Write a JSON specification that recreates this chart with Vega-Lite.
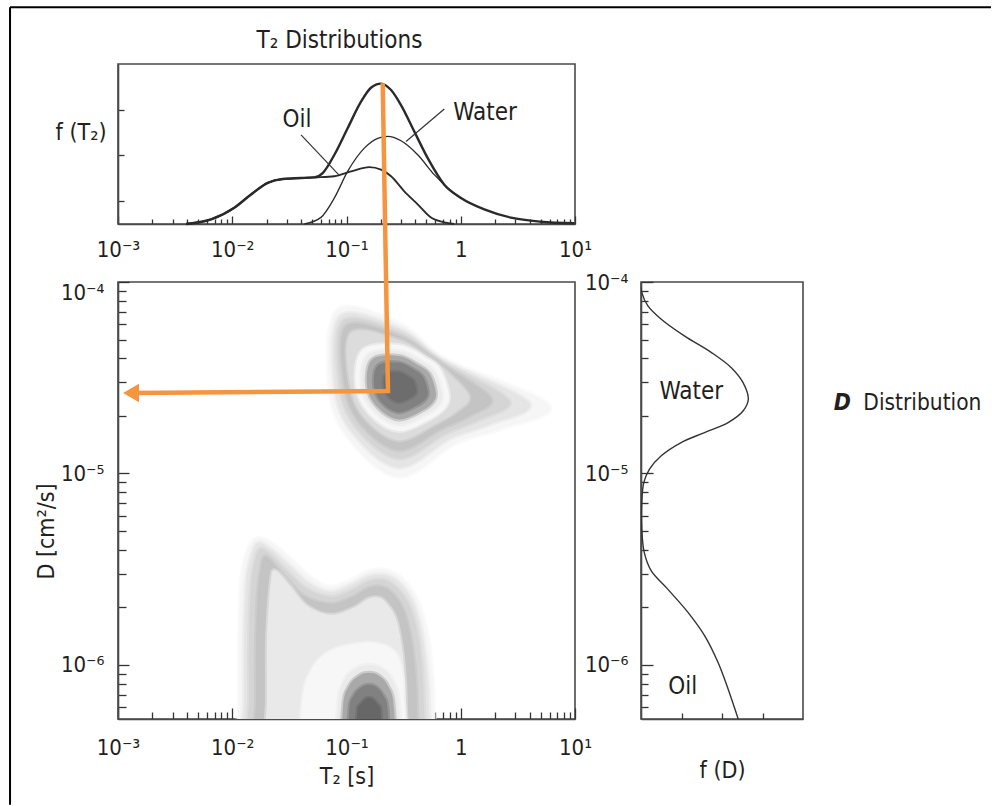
{
  "$schema": "https://vega.github.io/schema/vega-lite/v6.json",
  "padding": {"left": 8, "top": 5, "right": 0, "bottom": 0},
  "background": "white",
  "config": {
    "font": "Liberation Sans Narrow, DejaVu Sans Condensed, sans-serif",
    "view": {"stroke": "#4a4a4a", "strokeWidth": 1.6},
    "axis": {"domainColor": "#4a4a4a", "domainWidth": 1.6, "tickColor": "#333333", "tickWidth": 1.3, "labelFontSize": 22, "labelColor": "#231f20", "titleFontSize": 23, "titleFontWeight": "normal", "titleColor": "#231f20", "grid": false, "zindex": 1, "labelFlush": false, "labelOverlap": false},
    "title": {"fontSize": 24, "fontWeight": "normal", "color": "#231f20"},
    "text": {"color": "#231f20"}
  },
  "datasets": {
    "t2": [
      {"series":"Total","T2":0.00394,"f":0},{"series":"Total","T2":0.00652,"f":0.2},{"series":"Total","T2":0.01042,"f":0.71},{"series":"Total","T2":0.01459,"f":1.29},{"series":"Total","T2":0.02042,"f":1.8},{"series":"Total","T2":0.02767,"f":1.97},{"series":"Total","T2":0.04,"f":2.01},{"series":"Total","T2":0.05224,"f":2.04},{"series":"Total","T2":0.06194,"f":2.23},{"series":"Total","T2":0.07834,"f":3.03},{"series":"Total","T2":0.1023,"f":4.19},{"series":"Total","T2":0.134,"f":5.35},{"series":"Total","T2":0.1637,"f":5.96},{"series":"Total","T2":0.2004,"f":6.14},{"series":"Total","T2":0.2455,"f":5.86},{"series":"Total","T2":0.2999,"f":5.2},{"series":"Total","T2":0.3926,"f":4.04},{"series":"Total","T2":0.514,"f":2.88},{"series":"Total","T2":0.7178,"f":1.72},{"series":"Total","T2":1.005,"f":1.14},{"series":"Total","T2":1.607,"f":0.64},{"series":"Total","T2":2.754,"f":0.28},{"series":"Total","T2":5.035,"f":0.1},{"series":"Total","T2":9.863,"f":0.03},
      {"series":"Oil","T2":0.00394,"f":0},{"series":"Oil","T2":0.00652,"f":0.2},{"series":"Oil","T2":0.01042,"f":0.71},{"series":"Oil","T2":0.01459,"f":1.29},{"series":"Oil","T2":0.02042,"f":1.8},{"series":"Oil","T2":0.02767,"f":1.97},{"series":"Oil","T2":0.04,"f":2.01},{"series":"Oil","T2":0.05224,"f":2.04},{"series":"Oil","T2":0.07834,"f":2.09},{"series":"Oil","T2":0.1096,"f":2.3},{"series":"Oil","T2":0.1585,"f":2.49},{"series":"Oil","T2":0.2004,"f":2.38},{"series":"Oil","T2":0.2455,"f":2.09},{"series":"Oil","T2":0.3206,"f":1.43},{"series":"Oil","T2":0.4198,"f":0.86},{"series":"Oil","T2":0.5495,"f":0.28},{"series":"Oil","T2":0.7178,"f":0.07},{"series":"Oil","T2":0.877,"f":0},
      {"series":"Water","T2":0.04276,"f":0},{"series":"Water","T2":0.05984,"f":0.29},{"series":"Water","T2":0.07834,"f":1.14},{"series":"Water","T2":0.1023,"f":2.3},{"series":"Water","T2":0.1432,"f":3.32},{"series":"Water","T2":0.1875,"f":3.75},{"series":"Water","T2":0.2291,"f":3.83},{"series":"Water","T2":0.2999,"f":3.64},{"series":"Water","T2":0.4198,"f":3.03},{"series":"Water","T2":0.5861,"f":2.16},{"series":"Water","T2":0.7691,"f":1.58},{"series":"Water","T2":1.005,"f":1.14}
    ],
    "fd": [
      {"f":0,"D":0.000094},{"f":0.02,"D":0.000088},{"f":0.17,"D":0.000075},{"f":0.5,"D":0.0000639},{"f":1.07,"D":0.0000523},{"f":1.74,"D":0.0000428},{"f":2.23,"D":0.0000357},{"f":2.52,"D":0.0000298},{"f":2.65,"D":0.0000244},{"f":2.52,"D":0.0000212},{"f":2.15,"D":0.00001845},{"f":1.57,"D":0.00001636},{"f":0.99,"D":0.00001451},{"f":0.5,"D":0.00001237},{"f":0.21,"D":0.00001054},{"f":0.07,"D":0.00000898},{"f":0.02,"D":0.00000706},{"f":0.02,"D":0.00000513},{"f":0.08,"D":0.00000387},{"f":0.25,"D":0.00000311},{"f":0.66,"D":0.00000249},{"f":1.16,"D":0.000001883},{"f":1.57,"D":0.000001423},{"f":1.9,"D":0.000001033},{"f":2.15,"D":0.00000075},{"f":2.4,"D":0.000000523}
    ],
    "arrow": [
      {"step":1,"T2":0.2074,"D":0.001093},{"step":2,"T2":0.2307,"D":0.00002698},{"step":3,"T2":0.0013,"D":0.00002634}
    ],
    "blobs": [
      {"poly":"o01","level":0.03,"i":1,"log10_T2":-1.941,"log10_D":-6.657},{"poly":"o01","level":0.03,"i":2,"log10_T2":-1.941,"log10_D":-6.187},{"poly":"o01","level":0.03,"i":3,"log10_T2":-1.941,"log10_D":-5.874},{"poly":"o01","level":0.03,"i":4,"log10_T2":-1.923,"log10_D":-5.561},{"poly":"o01","level":0.03,"i":5,"log10_T2":-1.871,"log10_D":-5.404},{"poly":"o01","level":0.03,"i":6,"log10_T2":-1.783,"log10_D":-5.336},{"poly":"o01","level":0.03,"i":7,"log10_T2":-1.643,"log10_D":-5.367},{"poly":"o01","level":0.03,"i":8,"log10_T2":-1.468,"log10_D":-5.456},{"poly":"o01","level":0.03,"i":9,"log10_T2":-1.293,"log10_D":-5.55},{"poly":"o01","level":0.03,"i":10,"log10_T2":-1.136,"log10_D":-5.592},{"poly":"o01","level":0.03,"i":11,"log10_T2":-0.961,"log10_D":-5.555},{"poly":"o01","level":0.03,"i":12,"log10_T2":-0.803,"log10_D":-5.508},{"poly":"o01","level":0.03,"i":13,"log10_T2":-0.654,"log10_D":-5.503},{"poly":"o01","level":0.03,"i":14,"log10_T2":-0.506,"log10_D":-5.55},{"poly":"o01","level":0.03,"i":15,"log10_T2":-0.374,"log10_D":-5.665},{"poly":"o01","level":0.03,"i":16,"log10_T2":-0.287,"log10_D":-5.848},{"poly":"o01","level":0.03,"i":17,"log10_T2":-0.243,"log10_D":-6.082},{"poly":"o01","level":0.03,"i":18,"log10_T2":-0.234,"log10_D":-6.239},{"poly":"o01","level":0.03,"i":19,"log10_T2":-0.225,"log10_D":-6.657},{"poly":"o01","level":0.03,"i":20,"log10_T2":-1.083,"log10_D":-6.709},
      {"poly":"o02","level":0.09,"i":1,"log10_T2":-1.897,"log10_D":-6.657},{"poly":"o02","level":0.09,"i":2,"log10_T2":-1.897,"log10_D":-6.187},{"poly":"o02","level":0.09,"i":3,"log10_T2":-1.897,"log10_D":-5.874},{"poly":"o02","level":0.09,"i":4,"log10_T2":-1.88,"log10_D":-5.571},{"poly":"o02","level":0.09,"i":5,"log10_T2":-1.836,"log10_D":-5.43},{"poly":"o02","level":0.09,"i":6,"log10_T2":-1.775,"log10_D":-5.362},{"poly":"o02","level":0.09,"i":7,"log10_T2":-1.661,"log10_D":-5.394},{"poly":"o02","level":0.09,"i":8,"log10_T2":-1.495,"log10_D":-5.482},{"poly":"o02","level":0.09,"i":9,"log10_T2":-1.319,"log10_D":-5.576},{"poly":"o02","level":0.09,"i":10,"log10_T2":-1.136,"log10_D":-5.618},{"poly":"o02","level":0.09,"i":11,"log10_T2":-0.961,"log10_D":-5.581},{"poly":"o02","level":0.09,"i":12,"log10_T2":-0.803,"log10_D":-5.534},{"poly":"o02","level":0.09,"i":13,"log10_T2":-0.663,"log10_D":-5.529},{"poly":"o02","level":0.09,"i":14,"log10_T2":-0.532,"log10_D":-5.571},{"poly":"o02","level":0.09,"i":15,"log10_T2":-0.409,"log10_D":-5.681},{"poly":"o02","level":0.09,"i":16,"log10_T2":-0.33,"log10_D":-5.858},{"poly":"o02","level":0.09,"i":17,"log10_T2":-0.287,"log10_D":-6.082},{"poly":"o02","level":0.09,"i":18,"log10_T2":-0.278,"log10_D":-6.239},{"poly":"o02","level":0.09,"i":19,"log10_T2":-0.269,"log10_D":-6.657},{"poly":"o02","level":0.09,"i":20,"log10_T2":-1.083,"log10_D":-6.709},
      {"poly":"o03","level":0.15,"i":1,"log10_T2":-1.853,"log10_D":-6.657},{"poly":"o03","level":0.15,"i":2,"log10_T2":-1.853,"log10_D":-6.187},{"poly":"o03","level":0.15,"i":3,"log10_T2":-1.853,"log10_D":-5.874},{"poly":"o03","level":0.15,"i":4,"log10_T2":-1.836,"log10_D":-5.587},{"poly":"o03","level":0.15,"i":5,"log10_T2":-1.801,"log10_D":-5.456},{"poly":"o03","level":0.15,"i":6,"log10_T2":-1.757,"log10_D":-5.394},{"poly":"o03","level":0.15,"i":7,"log10_T2":-1.67,"log10_D":-5.42},{"poly":"o03","level":0.15,"i":8,"log10_T2":-1.521,"log10_D":-5.508},{"poly":"o03","level":0.15,"i":9,"log10_T2":-1.346,"log10_D":-5.602},{"poly":"o03","level":0.15,"i":10,"log10_T2":-1.136,"log10_D":-5.644},{"poly":"o03","level":0.15,"i":11,"log10_T2":-0.952,"log10_D":-5.608},{"poly":"o03","level":0.15,"i":12,"log10_T2":-0.803,"log10_D":-5.561},{"poly":"o03","level":0.15,"i":13,"log10_T2":-0.672,"log10_D":-5.555},{"poly":"o03","level":0.15,"i":14,"log10_T2":-0.558,"log10_D":-5.597},{"poly":"o03","level":0.15,"i":15,"log10_T2":-0.444,"log10_D":-5.696},{"poly":"o03","level":0.15,"i":16,"log10_T2":-0.365,"log10_D":-5.874},{"poly":"o03","level":0.15,"i":17,"log10_T2":-0.33,"log10_D":-6.082},{"poly":"o03","level":0.15,"i":18,"log10_T2":-0.322,"log10_D":-6.239},{"poly":"o03","level":0.15,"i":19,"log10_T2":-0.313,"log10_D":-6.657},{"poly":"o03","level":0.15,"i":20,"log10_T2":-1.083,"log10_D":-6.709},
      {"poly":"o04","level":0.21,"i":1,"log10_T2":-1.792,"log10_D":-6.657},{"poly":"o04","level":0.21,"i":2,"log10_T2":-1.792,"log10_D":-6.187},{"poly":"o04","level":0.21,"i":3,"log10_T2":-1.792,"log10_D":-5.874},{"poly":"o04","level":0.21,"i":4,"log10_T2":-1.775,"log10_D":-5.613},{"poly":"o04","level":0.21,"i":5,"log10_T2":-1.748,"log10_D":-5.493},{"poly":"o04","level":0.21,"i":6,"log10_T2":-1.722,"log10_D":-5.435},{"poly":"o04","level":0.21,"i":7,"log10_T2":-1.661,"log10_D":-5.456},{"poly":"o04","level":0.21,"i":8,"log10_T2":-1.538,"log10_D":-5.54},{"poly":"o04","level":0.21,"i":9,"log10_T2":-1.372,"log10_D":-5.639},{"poly":"o04","level":0.21,"i":10,"log10_T2":-1.136,"log10_D":-5.681},{"poly":"o04","level":0.21,"i":11,"log10_T2":-0.943,"log10_D":-5.644},{"poly":"o04","level":0.21,"i":12,"log10_T2":-0.803,"log10_D":-5.597},{"poly":"o04","level":0.21,"i":13,"log10_T2":-0.689,"log10_D":-5.592},{"poly":"o04","level":0.21,"i":14,"log10_T2":-0.593,"log10_D":-5.628},{"poly":"o04","level":0.21,"i":15,"log10_T2":-0.497,"log10_D":-5.717},{"poly":"o04","level":0.21,"i":16,"log10_T2":-0.427,"log10_D":-5.889},{"poly":"o04","level":0.21,"i":17,"log10_T2":-0.392,"log10_D":-6.082},{"poly":"o04","level":0.21,"i":18,"log10_T2":-0.383,"log10_D":-6.239},{"poly":"o04","level":0.21,"i":19,"log10_T2":-0.374,"log10_D":-6.657},{"poly":"o04","level":0.21,"i":20,"log10_T2":-1.083,"log10_D":-6.709},
      {"poly":"o05","level":0.32,"i":1,"log10_T2":-1.696,"log10_D":-6.657},{"poly":"o05","level":0.32,"i":2,"log10_T2":-1.696,"log10_D":-6.187},{"poly":"o05","level":0.32,"i":3,"log10_T2":-1.696,"log10_D":-5.874},{"poly":"o05","level":0.32,"i":4,"log10_T2":-1.678,"log10_D":-5.665},{"poly":"o05","level":0.32,"i":5,"log10_T2":-1.661,"log10_D":-5.561},{"poly":"o05","level":0.32,"i":6,"log10_T2":-1.643,"log10_D":-5.508},{"poly":"o05","level":0.32,"i":7,"log10_T2":-1.591,"log10_D":-5.519},{"poly":"o05","level":0.32,"i":8,"log10_T2":-1.486,"log10_D":-5.592},{"poly":"o05","level":0.32,"i":9,"log10_T2":-1.346,"log10_D":-5.691},{"poly":"o05","level":0.32,"i":10,"log10_T2":-1.136,"log10_D":-5.738},{"poly":"o05","level":0.32,"i":11,"log10_T2":-0.934,"log10_D":-5.701},{"poly":"o05","level":0.32,"i":12,"log10_T2":-0.812,"log10_D":-5.655},{"poly":"o05","level":0.32,"i":13,"log10_T2":-0.716,"log10_D":-5.649},{"poly":"o05","level":0.32,"i":14,"log10_T2":-0.646,"log10_D":-5.681},{"poly":"o05","level":0.32,"i":15,"log10_T2":-0.567,"log10_D":-5.759},{"poly":"o05","level":0.32,"i":16,"log10_T2":-0.514,"log10_D":-5.915},{"poly":"o05","level":0.32,"i":17,"log10_T2":-0.488,"log10_D":-6.082},{"poly":"o05","level":0.32,"i":18,"log10_T2":-0.479,"log10_D":-6.239},{"poly":"o05","level":0.32,"i":19,"log10_T2":-0.471,"log10_D":-6.657},{"poly":"o05","level":0.32,"i":20,"log10_T2":-1.083,"log10_D":-6.709},
      {"poly":"o06","level":0.36,"i":1,"log10_T2":-1.398,"log10_D":-6.657},{"poly":"o06","level":0.36,"i":2,"log10_T2":-1.39,"log10_D":-6.213},{"poly":"o06","level":0.36,"i":3,"log10_T2":-1.311,"log10_D":-6.03},{"poly":"o06","level":0.36,"i":4,"log10_T2":-1.136,"log10_D":-5.926},{"poly":"o06","level":0.36,"i":5,"log10_T2":-0.829,"log10_D":-5.884},{"poly":"o06","level":0.36,"i":6,"log10_T2":-0.611,"log10_D":-5.915},{"poly":"o06","level":0.36,"i":7,"log10_T2":-0.523,"log10_D":-6.004},{"poly":"o06","level":0.36,"i":8,"log10_T2":-0.497,"log10_D":-6.187},{"poly":"o06","level":0.36,"i":9,"log10_T2":-0.488,"log10_D":-6.657},{"poly":"o06","level":0.36,"i":10,"log10_T2":-0.943,"log10_D":-6.709},
      {"poly":"o07","level":0.45,"i":1,"log10_T2":-1.083,"log10_D":-6.657},{"poly":"o07","level":0.45,"i":2,"log10_T2":-1.074,"log10_D":-6.213},{"poly":"o07","level":0.45,"i":3,"log10_T2":-1.013,"log10_D":-6.072},{"poly":"o07","level":0.45,"i":4,"log10_T2":-0.908,"log10_D":-6.015},{"poly":"o07","level":0.45,"i":5,"log10_T2":-0.803,"log10_D":-5.999},{"poly":"o07","level":0.45,"i":6,"log10_T2":-0.698,"log10_D":-6.015},{"poly":"o07","level":0.45,"i":7,"log10_T2":-0.602,"log10_D":-6.072},{"poly":"o07","level":0.45,"i":8,"log10_T2":-0.541,"log10_D":-6.213},{"poly":"o07","level":0.45,"i":9,"log10_T2":-0.532,"log10_D":-6.657},{"poly":"o07","level":0.45,"i":10,"log10_T2":-0.803,"log10_D":-6.709},
      {"poly":"o08","level":0.55,"i":1,"log10_T2":-1.039,"log10_D":-6.657},{"poly":"o08","level":0.55,"i":2,"log10_T2":-1.031,"log10_D":-6.229},{"poly":"o08","level":0.55,"i":3,"log10_T2":-0.978,"log10_D":-6.109},{"poly":"o08","level":0.55,"i":4,"log10_T2":-0.891,"log10_D":-6.056},{"poly":"o08","level":0.55,"i":5,"log10_T2":-0.803,"log10_D":-6.041},{"poly":"o08","level":0.55,"i":6,"log10_T2":-0.716,"log10_D":-6.056},{"poly":"o08","level":0.55,"i":7,"log10_T2":-0.637,"log10_D":-6.109},{"poly":"o08","level":0.55,"i":8,"log10_T2":-0.584,"log10_D":-6.229},{"poly":"o08","level":0.55,"i":9,"log10_T2":-0.576,"log10_D":-6.657},{"poly":"o08","level":0.55,"i":10,"log10_T2":-0.803,"log10_D":-6.709},
      {"poly":"o09","level":0.68,"i":1,"log10_T2":-0.987,"log10_D":-6.657},{"poly":"o09","level":0.68,"i":2,"log10_T2":-0.978,"log10_D":-6.25},{"poly":"o09","level":0.68,"i":3,"log10_T2":-0.934,"log10_D":-6.156},{"poly":"o09","level":0.68,"i":4,"log10_T2":-0.864,"log10_D":-6.114},{"poly":"o09","level":0.68,"i":5,"log10_T2":-0.803,"log10_D":-6.103},{"poly":"o09","level":0.68,"i":6,"log10_T2":-0.742,"log10_D":-6.114},{"poly":"o09","level":0.68,"i":7,"log10_T2":-0.681,"log10_D":-6.156},{"poly":"o09","level":0.68,"i":8,"log10_T2":-0.637,"log10_D":-6.25},{"poly":"o09","level":0.68,"i":9,"log10_T2":-0.628,"log10_D":-6.657},{"poly":"o09","level":0.68,"i":10,"log10_T2":-0.803,"log10_D":-6.709},
      {"poly":"o10","level":0.9,"i":1,"log10_T2":-0.917,"log10_D":-6.657},{"poly":"o10","level":0.9,"i":2,"log10_T2":-0.908,"log10_D":-6.27},{"poly":"o10","level":0.9,"i":3,"log10_T2":-0.873,"log10_D":-6.203},{"poly":"o10","level":0.9,"i":4,"log10_T2":-0.803,"log10_D":-6.171},{"poly":"o10","level":0.9,"i":5,"log10_T2":-0.733,"log10_D":-6.203},{"poly":"o10","level":0.9,"i":6,"log10_T2":-0.698,"log10_D":-6.27},{"poly":"o10","level":0.9,"i":7,"log10_T2":-0.689,"log10_D":-6.657},{"poly":"o10","level":0.9,"i":8,"log10_T2":-0.803,"log10_D":-6.709},
      {"poly":"w01","level":0.03,"i":1,"log10_T2":0.779,"log10_D":-4.646},{"poly":"w01","level":0.03,"i":2,"log10_T2":-0.047,"log10_D":-4.426},{"poly":"w01","level":0.03,"i":3,"log10_T2":-0.231,"log10_D":-4.364},{"poly":"w01","level":0.03,"i":4,"log10_T2":-0.541,"log10_D":-4.214},{"poly":"w01","level":0.03,"i":5,"log10_T2":-1.083,"log10_D":-4.146},{"poly":"w01","level":0.03,"i":6,"log10_T2":-1.153,"log10_D":-4.548},{"poly":"w01","level":0.03,"i":7,"log10_T2":-0.986,"log10_D":-4.814},{"poly":"w01","level":0.03,"i":8,"log10_T2":-0.541,"log10_D":-5.018},{"poly":"w01","level":0.03,"i":9,"log10_T2":-0.045,"log10_D":-4.843},{"poly":"w01","level":0.03,"i":10,"log10_T2":0.349,"log10_D":-4.768},
      {"poly":"w02","level":0.09,"i":1,"log10_T2":0.602,"log10_D":-4.633},{"poly":"w02","level":0.09,"i":2,"log10_T2":-0.073,"log10_D":-4.432},{"poly":"w02","level":0.09,"i":3,"log10_T2":-0.244,"log10_D":-4.371},{"poly":"w02","level":0.09,"i":4,"log10_T2":-0.541,"log10_D":-4.24},{"poly":"w02","level":0.09,"i":5,"log10_T2":-1.057,"log10_D":-4.177},{"poly":"w02","level":0.09,"i":6,"log10_T2":-1.106,"log10_D":-4.548},{"poly":"w02","level":0.09,"i":7,"log10_T2":-0.946,"log10_D":-4.79},{"poly":"w02","level":0.09,"i":8,"log10_T2":-0.541,"log10_D":-4.97},{"poly":"w02","level":0.09,"i":9,"log10_T2":-0.089,"log10_D":-4.817},{"poly":"w02","level":0.09,"i":10,"log10_T2":0.254,"log10_D":-4.744},
      {"poly":"w03","level":0.15,"i":1,"log10_T2":0.425,"log10_D":-4.62},{"poly":"w03","level":0.15,"i":2,"log10_T2":-0.099,"log10_D":-4.439},{"poly":"w03","level":0.15,"i":3,"log10_T2":-0.256,"log10_D":-4.378},{"poly":"w03","level":0.15,"i":4,"log10_T2":-0.541,"log10_D":-4.261},{"poly":"w03","level":0.15,"i":5,"log10_T2":-1.031,"log10_D":-4.204},{"poly":"w03","level":0.15,"i":6,"log10_T2":-1.059,"log10_D":-4.548},{"poly":"w03","level":0.15,"i":7,"log10_T2":-0.907,"log10_D":-4.766},{"poly":"w03","level":0.15,"i":8,"log10_T2":-0.541,"log10_D":-4.922},{"poly":"w03","level":0.15,"i":9,"log10_T2":-0.132,"log10_D":-4.792},{"poly":"w03","level":0.15,"i":10,"log10_T2":0.158,"log10_D":-4.721},
      {"poly":"w04","level":0.21,"i":1,"log10_T2":0.265,"log10_D":-4.608},{"poly":"w04","level":0.21,"i":2,"log10_T2":-0.122,"log10_D":-4.445},{"poly":"w04","level":0.21,"i":3,"log10_T2":-0.267,"log10_D":-4.385},{"poly":"w04","level":0.21,"i":4,"log10_T2":-0.541,"log10_D":-4.282},{"poly":"w04","level":0.21,"i":5,"log10_T2":-1.004,"log10_D":-4.23},{"poly":"w04","level":0.21,"i":6,"log10_T2":-1.016,"log10_D":-4.548},{"poly":"w04","level":0.21,"i":7,"log10_T2":-0.871,"log10_D":-4.745},{"poly":"w04","level":0.21,"i":8,"log10_T2":-0.541,"log10_D":-4.878},{"poly":"w04","level":0.21,"i":9,"log10_T2":-0.171,"log10_D":-4.768},{"poly":"w04","level":0.21,"i":10,"log10_T2":0.073,"log10_D":-4.7},
      {"poly":"w05","level":0.28,"i":1,"log10_T2":0.071,"log10_D":-4.594},{"poly":"w05","level":0.28,"i":2,"log10_T2":-0.151,"log10_D":-4.452},{"poly":"w05","level":0.28,"i":3,"log10_T2":-0.281,"log10_D":-4.393},{"poly":"w05","level":0.28,"i":4,"log10_T2":-0.541,"log10_D":-4.303},{"poly":"w05","level":0.28,"i":5,"log10_T2":-0.961,"log10_D":-4.266},{"poly":"w05","level":0.28,"i":6,"log10_T2":-0.964,"log10_D":-4.548},{"poly":"w05","level":0.28,"i":7,"log10_T2":-0.828,"log10_D":-4.719},{"poly":"w05","level":0.28,"i":8,"log10_T2":-0.541,"log10_D":-4.826},{"poly":"w05","level":0.28,"i":9,"log10_T2":-0.219,"log10_D":-4.74},{"poly":"w05","level":0.28,"i":10,"log10_T2":-0.033,"log10_D":-4.674},
      {"poly":"w06","level":0.36,"i":1,"log10_T2":-0.106,"log10_D":-4.58},{"poly":"w06","level":0.36,"i":2,"log10_T2":-0.177,"log10_D":-4.458},{"poly":"w06","level":0.36,"i":3,"log10_T2":-0.293,"log10_D":-4.4},{"poly":"w06","level":0.36,"i":4,"log10_T2":-0.541,"log10_D":-4.329},{"poly":"w06","level":0.36,"i":5,"log10_T2":-0.862,"log10_D":-4.356},{"poly":"w06","level":0.36,"i":6,"log10_T2":-0.917,"log10_D":-4.548},{"poly":"w06","level":0.36,"i":7,"log10_T2":-0.788,"log10_D":-4.696},{"poly":"w06","level":0.36,"i":8,"log10_T2":-0.541,"log10_D":-4.778},{"poly":"w06","level":0.36,"i":9,"log10_T2":-0.262,"log10_D":-4.714},{"poly":"w06","level":0.36,"i":10,"log10_T2":-0.128,"log10_D":-4.65},
      {"poly":"w07","level":0.45,"i":1,"log10_T2":-0.167,"log10_D":-4.576},{"poly":"w07","level":0.45,"i":2,"log10_T2":-0.228,"log10_D":-4.471},{"poly":"w07","level":0.45,"i":3,"log10_T2":-0.328,"log10_D":-4.421},{"poly":"w07","level":0.45,"i":4,"log10_T2":-0.541,"log10_D":-4.36},{"poly":"w07","level":0.45,"i":5,"log10_T2":-0.817,"log10_D":-4.383},{"poly":"w07","level":0.45,"i":6,"log10_T2":-0.864,"log10_D":-4.548},{"poly":"w07","level":0.45,"i":7,"log10_T2":-0.753,"log10_D":-4.675},{"poly":"w07","level":0.45,"i":8,"log10_T2":-0.541,"log10_D":-4.745},{"poly":"w07","level":0.45,"i":9,"log10_T2":-0.301,"log10_D":-4.691},{"poly":"w07","level":0.45,"i":10,"log10_T2":-0.185,"log10_D":-4.636},
      {"poly":"w08","level":0.55,"i":1,"log10_T2":-0.219,"log10_D":-4.572},{"poly":"w08","level":0.55,"i":2,"log10_T2":-0.271,"log10_D":-4.481},{"poly":"w08","level":0.55,"i":3,"log10_T2":-0.357,"log10_D":-4.439},{"poly":"w08","level":0.55,"i":4,"log10_T2":-0.541,"log10_D":-4.386},{"poly":"w08","level":0.55,"i":5,"log10_T2":-0.779,"log10_D":-4.406},{"poly":"w08","level":0.55,"i":6,"log10_T2":-0.819,"log10_D":-4.548},{"poly":"w08","level":0.55,"i":7,"log10_T2":-0.724,"log10_D":-4.657},{"poly":"w08","level":0.55,"i":8,"log10_T2":-0.541,"log10_D":-4.718},{"poly":"w08","level":0.55,"i":9,"log10_T2":-0.334,"log10_D":-4.671},{"poly":"w08","level":0.55,"i":10,"log10_T2":-0.236,"log10_D":-4.623},
      {"poly":"w09","level":0.68,"i":1,"log10_T2":-0.289,"log10_D":-4.567},{"poly":"w09","level":0.68,"i":2,"log10_T2":-0.329,"log10_D":-4.496},{"poly":"w09","level":0.68,"i":3,"log10_T2":-0.397,"log10_D":-4.462},{"poly":"w09","level":0.68,"i":4,"log10_T2":-0.541,"log10_D":-4.421},{"poly":"w09","level":0.68,"i":5,"log10_T2":-0.727,"log10_D":-4.437},{"poly":"w09","level":0.68,"i":6,"log10_T2":-0.758,"log10_D":-4.548},{"poly":"w09","level":0.68,"i":7,"log10_T2":-0.684,"log10_D":-4.634},{"poly":"w09","level":0.68,"i":8,"log10_T2":-0.541,"log10_D":-4.681},{"poly":"w09","level":0.68,"i":9,"log10_T2":-0.379,"log10_D":-4.644},{"poly":"w09","level":0.68,"i":10,"log10_T2":-0.301,"log10_D":-4.607},
      {"poly":"w10","level":0.85,"i":1,"log10_T2":-0.389,"log10_D":-4.559},{"poly":"w10","level":0.85,"i":2,"log10_T2":-0.413,"log10_D":-4.516},{"poly":"w10","level":0.85,"i":3,"log10_T2":-0.454,"log10_D":-4.496},{"poly":"w10","level":0.85,"i":4,"log10_T2":-0.541,"log10_D":-4.471},{"poly":"w10","level":0.85,"i":5,"log10_T2":-0.653,"log10_D":-4.481},{"poly":"w10","level":0.85,"i":6,"log10_T2":-0.672,"log10_D":-4.548},{"poly":"w10","level":0.85,"i":7,"log10_T2":-0.627,"log10_D":-4.6},{"poly":"w10","level":0.85,"i":8,"log10_T2":-0.541,"log10_D":-4.628},{"poly":"w10","level":0.85,"i":9,"log10_T2":-0.443,"log10_D":-4.606},{"poly":"w10","level":0.85,"i":10,"log10_T2":-0.396,"log10_D":-4.584}
    ]
  },
  "spacing": 58,
  "bounds": "flush",
  "vconcat": [
    {
      "width": 457,
      "height": 160,
      "title": {"text": "T₂ Distributions", "offset": 11, "dx": -7},
      "layer": [
        {
          "data": {"name": "t2"},
          "mark": {"type": "line", "color": "#2a2a2a", "interpolate": "monotone"},
          "encoding": {
            "x": {"field": "T2", "type": "quantitative", "scale": {"type": "log", "domain": [0.001, 10], "nice": false},
              "axis": {"orient": "bottom", "values": [0.001,0.002,0.003,0.004,0.005,0.006,0.007,0.008,0.009,0.01,0.02,0.03,0.04,0.05,0.06,0.07,0.08,0.09,0.1,0.2,0.3,0.4,0.5,0.6,0.7,0.8,0.9,1,2,3,4,5,6,7,8,9,10],
                "labelExpr": "datum.value == 0.001 ? '10⁻³' : datum.value == 0.01 ? '10⁻²' : datum.value == 0.1 ? '10⁻¹' : datum.value == 1 ? '1' : datum.value == 10 ? '10¹' : ''",
                "tickSize": {"condition": {"test": "indexof([0.001,0.01,0.1,1,10], datum.value) >= 0", "value": -8}, "value": -5},
                "labelPadding": 23, "title": null}},
            "y": {"field": "f", "type": "quantitative", "scale": {"domain": [0, 7], "nice": false},
              "axis": {"orient": "left", "values": [1,2,3,4,5,6], "labels": false, "tickSize": -6, "title": "f (T₂)", "titleAngle": 0, "titleAlign": "right", "titleBaseline": "middle", "titleX": -12, "titleY": 68}},
            "detail": {"field": "series", "type": "nominal"},
            "strokeWidth": {"field": "series", "type": "nominal", "scale": {"domain": ["Total", "Oil", "Water"], "range": [2.4, 1.3, 1.3]}, "legend": null}
          }
        },
        {
          "data": {"values": [{}]},
          "mark": {"type": "rule", "color": "#333333", "strokeWidth": 1.2},
          "encoding": {"x": {"datum": 0.04}, "y": {"datum": 3.9}, "x2": {"datum": 0.0865}, "y2": {"datum": 2.13}}
        },
        {
          "data": {"values": [{}]},
          "mark": {"type": "rule", "color": "#333333", "strokeWidth": 1.2},
          "encoding": {"x": {"datum": 0.7178}, "y": {"datum": 5.03}, "x2": {"datum": 0.3319}, "y2": {"datum": 3.61}}
        },
        {
          "data": {"values": [{}]},
          "mark": {"type": "text", "fontSize": 24, "baseline": "middle", "align": "center"},
          "encoding": {"x": {"datum": 0.0369}, "y": {"datum": 4.55}, "text": {"value": "Oil"}}
        },
        {
          "data": {"values": [{}]},
          "mark": {"type": "text", "fontSize": 24, "baseline": "middle", "align": "center"},
          "encoding": {"x": {"datum": 1.63}, "y": {"datum": 4.84}, "text": {"value": "Water"}}
        }
      ]
    },
    {
      "spacing": 66,
      "bounds": "flush",
      "hconcat": [
        {
          "width": 457,
          "height": 437,
          "resolve": {"scale": {"x": "independent", "y": "independent"}},
          "layer": [
            {
              "data": {"name": "blobs"},
              "mark": {"type": "line", "filled": true, "interpolate": "cardinal-closed", "clip": true, "strokeWidth": 4, "strokeOpacity": 0.5},
              "encoding": {
                "x": {"field": "log10_T2", "type": "quantitative", "scale": {"domain": [-3, 1], "nice": false, "zero": false}, "axis": null},
                "y": {"field": "log10_D", "type": "quantitative", "scale": {"domain": [-6.282, -4], "nice": false, "zero": false}, "axis": null},
                "detail": {"field": "poly", "type": "nominal"},
                "order": {"field": "i", "type": "quantitative"},
                "color": {"field": "level", "type": "quantitative", "scale": {"domain": [0, 0.21, 0.36, 0.45, 0.6, 1], "range": ["#ffffff", "#c4c4c4", "#f7f7f7", "#ebebeb", "#8a8a8a", "#5c5c5c"]}, "legend": null},
                "stroke": {"field": "level", "type": "quantitative", "scale": {"domain": [0, 0.21, 0.36, 0.45, 0.6, 1], "range": ["#ffffff", "#c4c4c4", "#f7f7f7", "#ebebeb", "#8a8a8a", "#5c5c5c"]}, "legend": null}
              }
            },
            {
              "layer": [
                {
                  "data": {"name": "arrow"},
                  "mark": {"type": "line", "color": "#f5953f", "strokeWidth": 4.5, "clip": false, "strokeJoin": "miter", "strokeCap": "butt"},
                  "encoding": {
                    "x": {"field": "T2", "type": "quantitative", "scale": {"type": "log", "domain": [0.001, 10], "nice": false},
                      "axis": {"orient": "bottom", "values": [0.001,0.002,0.003,0.004,0.005,0.006,0.007,0.008,0.009,0.01,0.02,0.03,0.04,0.05,0.06,0.07,0.08,0.09,0.1,0.2,0.3,0.4,0.5,0.6,0.7,0.8,0.9,1,2,3,4,5,6,7,8,9,10],
                        "labelExpr": "datum.value == 0.001 ? '10⁻³' : datum.value == 0.01 ? '10⁻²' : datum.value == 0.1 ? '10⁻¹' : datum.value == 1 ? '1' : datum.value == 10 ? '10¹' : ''",
                        "tickSize": {"condition": {"test": "indexof([0.001,0.01,0.1,1,10], datum.value) >= 0", "value": -11}, "value": -7},
                        "labelPadding": 29, "title": "T₂ [s]", "titlePadding": 3}},
                    "y": {"field": "D", "type": "quantitative", "scale": {"type": "log", "domain": [5.224e-7, 0.0001], "nice": false},
                      "axis": {"orient": "left", "values": [6e-7,7e-7,8e-7,9e-7,0.000001,2e-6,3e-6,4e-6,5e-6,6e-6,7e-6,8e-6,9e-6,0.00001,2e-5,3e-5,4e-5,5e-5,6e-5,7e-5,8e-5,9e-5,0.0001],
                        "labelExpr": "datum.value == 0.0001 ? '10⁻⁴' : datum.value == 0.00001 ? '10⁻⁵' : datum.value == 0.000001 ? '10⁻⁶' : ''",
                        "tickSize": {"condition": {"test": "indexof([0.0001,0.00001,0.000001], datum.value) >= 0", "value": -11}, "value": -8},
                        "labelPadding": 25, "labelFlush": true,
                        "title": "D [cm²/s]", "titleAngle": 270, "titleAlign": "center", "titleBaseline": "middle", "titleX": -72, "titleY": 249}},
                    "order": {"field": "step", "type": "quantitative"}
                  }
                },
                {
                  "data": {"name": "arrow"},
                  "transform": [{"filter": "datum.step == 3"}],
                  "mark": {"type": "point", "shape": "triangle-left", "filled": true, "color": "#f5953f", "size": 340, "opacity": 1, "clip": false, "strokeWidth": 0},
                  "encoding": {
                    "x": {"field": "T2", "type": "quantitative", "scale": {"type": "log", "domain": [0.001, 10], "nice": false}},
                    "y": {"field": "D", "type": "quantitative", "scale": {"type": "log", "domain": [5.224e-7, 0.0001], "nice": false}}
                  }
                },
                {
                  "data": {"values": [{}]},
                  "mark": {"type": "rule", "color": "#000000", "strokeWidth": 2, "clip": false},
                  "encoding": {
                    "x": {"datum": 0.0001135, "scale": {"type": "log", "domain": [0.001, 10], "nice": false}},
                    "y": {"datum": 0.00272, "scale": {"type": "log", "domain": [5.224e-7, 0.0001], "nice": false}},
                    "y2": {"datum": 1.863e-7}
                  }
                },
                {
                  "data": {"values": [{}]},
                  "mark": {"type": "rule", "color": "#000000", "strokeWidth": 2, "clip": false},
                  "encoding": {
                    "x": {"datum": 0.0001135, "scale": {"type": "log", "domain": [0.001, 10], "nice": false}},
                    "x2": {"datum": 43750},
                    "y": {"datum": 0.00272, "scale": {"type": "log", "domain": [5.224e-7, 0.0001], "nice": false}}
                  }
                }
              ]
            }
          ]
        },
        {
          "width": 162,
          "height": 437,
          "layer": [
            {
              "data": {"name": "fd"},
              "mark": {"type": "line", "color": "#333333", "strokeWidth": 1.4, "interpolate": "catmull-rom", "clip": true},
              "encoding": {
                "x": {"field": "f", "type": "quantitative", "scale": {"domain": [0, 4], "nice": false, "zero": false},
                  "axis": {"orient": "bottom", "values": [1,2,3], "labels": false, "tickSize": -6, "title": "f (D)", "titlePadding": 40}},
                "y": {"field": "D", "type": "quantitative", "scale": {"type": "log", "domain": [5.224e-7, 0.0001], "nice": false},
                  "axis": {"orient": "left", "values": [6e-7,7e-7,8e-7,9e-7,0.000001,2e-6,3e-6,4e-6,5e-6,6e-6,7e-6,8e-6,9e-6,0.00001,2e-5,3e-5,4e-5,5e-5,6e-5,7e-5,8e-5,9e-5,0.0001],
                    "labelExpr": "datum.value == 0.0001 ? '10⁻⁴' : datum.value == 0.00001 ? '10⁻⁵' : datum.value == 0.000001 ? '10⁻⁶' : ''",
                    "tickSize": {"condition": {"test": "indexof([0.0001,0.00001,0.000001], datum.value) >= 0", "value": -12}, "value": -7},
                    "labelPadding": 25, "title": null}},
                "order": {"field": "D", "type": "quantitative"}
              }
            },
            {
              "data": {"values": [{}]},
              "mark": {"type": "text", "fontSize": 24, "baseline": "middle", "align": "center"},
              "encoding": {"x": {"datum": 1.24}, "y": {"datum": 0.0000268}, "text": {"value": "Water"}}
            },
            {
              "data": {"values": [{}]},
              "mark": {"type": "text", "fontSize": 24, "baseline": "middle", "align": "center"},
              "encoding": {"x": {"datum": 1.03}, "y": {"datum": 7.65e-7}, "text": {"value": "Oil"}}
            },
            {
              "data": {"values": [{}]},
              "mark": {"type": "text", "fontSize": 23, "fontStyle": "italic", "fontWeight": "bold", "baseline": "middle", "align": "left", "clip": false},
              "encoding": {"x": {"datum": 4.76}, "y": {"datum": 0.0000234}, "text": {"value": "D"}}
            },
            {
              "data": {"values": [{}]},
              "mark": {"type": "text", "fontSize": 22.5, "baseline": "middle", "align": "left", "clip": false},
              "encoding": {"x": {"datum": 5.49}, "y": {"datum": 0.0000234}, "text": {"value": "Distribution"}}
            }
          ]
        }
      ]
    }
  ]
}
